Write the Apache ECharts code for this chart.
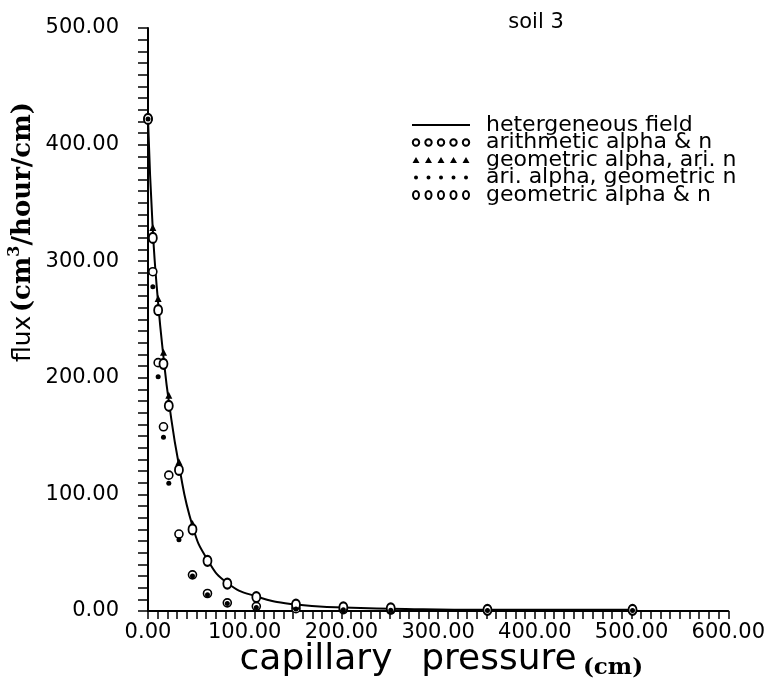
<!DOCTYPE html>
<html><head><meta charset="utf-8">
<script src="https://cdn.jsdelivr.net/npm/echarts@6/dist/echarts.min.js"></script>
<style>html,body{margin:0;padding:0;background:#fff}#c{width:768px;height:688px}</style>
</head><body><div id="c"></div>
<script>
// ---- data ----
const pressure           = [0, 5, 10.5, 16, 21.5, 32, 46, 61.5, 82, 112, 153, 202, 251, 351, 501];
const heterogeneousField = [422, 326, 264, 218, 180, 125, 73, 44, 24, 12.5, 5.5, 3, 2, 1, 1];
const arithAlphaN        = [422, 291, 213, 158, 116.5, 66, 31, 15, 7, 4, 2, 1.2, 0.8, 0.5, 0.5];
const geoAlphaAriN       = [422, 329, 268, 222, 185, 128, 75, 45, 24.5, 13, 6, 3.5, 2.5, 1, 1];
const ariAlphaGeoN       = [422, 278, 201, 149, 109.5, 61, 30, 14, 6.5, 3, 1.8, 1, 0.7, 0.4, 0.4];
const geoAlphaN          = [422, 320, 258, 212, 176, 121, 70, 43, 23.5, 12, 5.5, 3.2, 2.3, 1, 1];
const xTickLabels = ['0.00','100.00','200.00','300.00','400.00','500.00','600.00'];
const yTickLabels = ['0.00','100.00','200.00','300.00','400.00','500.00'];
const seriesNames = ['hetergeneous field','arithmetic alpha & n','geometric alpha, ari. n','ari. alpha, geometric n','geometric alpha & n'];

function pairs(ys){ return pressure.map((x,i)=>[x, ys[i]]); }

// legend icon paths (5 repeated marks)
const centers = [4, 16.5, 29, 41.5, 54];
const box = ' M0,0 M58,9';
function circ(cx, cy, rx, ry){ return `M${cx-rx},${cy} A${rx},${ry} 0 1,0 ${cx+rx},${cy} A${rx},${ry} 0 1,0 ${cx-rx},${cy} Z `; }
const ringIcon = 'path://' + centers.map(c=>circ(c,4.5,3.2,3.2)).join('') + box;
const dotIcon  = 'path://' + centers.map(c=>circ(c,4.5,2,2)).join('') + box;
const ovalIcon = 'path://' + centers.map(c=>circ(c,4.5,3,4)).join('') + box;
const triIcon  = 'path://' + centers.map(c=>`M${c-3.5},7.5 L${c},1.5 L${c+3.5},7.5 Z `).join('') + box;
const ovalSymbol = 'path://' + circ(5,6,5,6);

const font = 'DejaVu Sans';
const chart = echarts.init(document.getElementById('c'), null, {renderer:'canvas'});
chart.setOption({
  backgroundColor:'#fff',
  animation:false,
  title:{text:'soil 3', left:531, top:7, textAlign:'center',
    textStyle:{fontFamily:font, fontSize:21, fontWeight:'normal', color:'#000'}},
  grid:{left:148, right:36, top:28, bottom:77},
  legend:{
    orient:'vertical', left:406, top:109, itemWidth:58, itemHeight:9, itemGap:-4.5,
    selectedMode:false,
    textStyle:{fontFamily:font, fontSize:22, color:'#000', lineHeight:17.5, padding:[0,0,0,11]},
    data:[
      {name:seriesNames[0], itemStyle:{color:'rgba(0,0,0,0)', borderColor:'rgba(0,0,0,0)', borderWidth:0, opacity:0},
        lineStyle:{color:'#000', width:2, opacity:1}},
      {name:seriesNames[1], icon:ringIcon},
      {name:seriesNames[2], icon:triIcon},
      {name:seriesNames[3], icon:dotIcon},
      {name:seriesNames[4], icon:ovalIcon}
    ]
  },
  xAxis:{
    type:'value', min:0, max:600, interval:100,
    axisLine:{show:true, onZero:false, lineStyle:{color:'#000', width:2}},
    axisTick:{show:true, inside:false, length:8, lineStyle:{color:'#000', width:1.5}},
    minorTick:{show:true, splitNumber:10, length:8, lineStyle:{color:'#000', width:1.5}},
    splitLine:{show:false},
    axisLabel:{fontFamily:font, fontSize:21, color:'#000', margin:11,
      formatter:v=>xTickLabels[Math.round(v/100)]}
  },
  yAxis:{
    type:'value', min:0, max:500, interval:100,
    axisLine:{show:true, onZero:false, lineStyle:{color:'#000', width:2}},
    axisTick:{show:true, inside:false, length:10, lineStyle:{color:'#000', width:1.5}},
    minorTick:{show:true, splitNumber:10, length:10, lineStyle:{color:'#000', width:1.5}},
    splitLine:{show:false},
    axisLabel:{fontFamily:font, fontSize:21, color:'#000', margin:29,
      formatter:v=>yTickLabels[Math.round(v/100)]}
  },
  graphic:[
    {type:'text', x:23, y:232, rotation:Math.PI/2,
      style:{text:'{a|flux} {b|(cm}{s|3}{b|/hour/cm)}', align:'center', verticalAlign:'middle',
        rich:{
          a:{fontFamily:font, fontSize:25, color:'#000', lineHeight:32},
          b:{fontFamily:'DejaVu Serif', fontWeight:'bold', fontSize:26, color:'#000', lineHeight:32},
          s:{fontFamily:'DejaVu Serif', fontWeight:'bold', fontSize:16, color:'#000', lineHeight:32, verticalAlign:'top'}
        }}},
    {type:'text', x:316, y:660, style:{text:'capillary', align:'center', verticalAlign:'middle', fontFamily:font, fontSize:36, fill:'#000'}},
    {type:'text', x:499, y:660, style:{text:'pressure', align:'center', verticalAlign:'middle', fontFamily:font, fontSize:36, fill:'#000'}},
    {type:'text', x:613, y:668, style:{text:'(cm)', align:'center', verticalAlign:'middle', fontFamily:'DejaVu Serif', fontWeight:'bold', fontSize:23, fill:'#000'}}
  ],
  series:[
    {name:seriesNames[0], type:'line', data:pairs(heterogeneousField), symbol:'none',
      smooth:0.5, lineStyle:{color:'#000', width:2}, itemStyle:{color:'#000'}, z:2},
    {name:seriesNames[1], type:'scatter', data:pairs(arithAlphaN), symbol:'circle', symbolSize:8,
      itemStyle:{color:'#fff', borderColor:'#000', borderWidth:1.6, opacity:1}, z:3},
    {name:seriesNames[2], type:'scatter', data:pairs(geoAlphaAriN), symbol:'triangle', symbolSize:7,
      itemStyle:{color:'#000', opacity:1}, z:4},
    {name:seriesNames[3], type:'scatter', data:pairs(ariAlphaGeoN), symbol:'circle', symbolSize:5,
      itemStyle:{color:'#000', opacity:1}, z:5},
    {name:seriesNames[4], type:'scatter', data:pairs(geoAlphaN), symbol:ovalSymbol, symbolSize:[8,10],
      itemStyle:{color:'#fff', borderColor:'#000', borderWidth:2, opacity:1}, z:4}
  ]
});
</script></body></html>
